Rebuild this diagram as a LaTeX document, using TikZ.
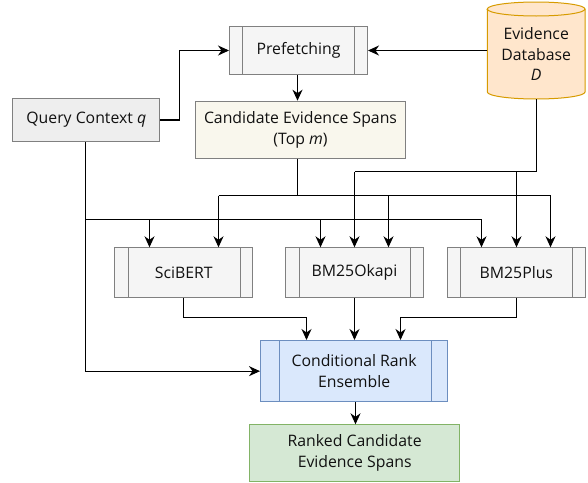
\documentclass[tikz,border=0pt]{standalone}
\usepackage{fontspec}
\setmainfont{Open Sans}
\usetikzlibrary{arrows.meta,calc}
\definecolor{grayfill}{HTML}{F5F5F5}
\definecolor{grayline}{HTML}{808080}
\definecolor{qfill}{HTML}{EEEEEE}
\definecolor{candfill}{HTML}{F9F7ED}
\definecolor{dbfill}{HTML}{FFE6CC}
\definecolor{dbline}{HTML}{D79B00}
\definecolor{crefill}{HTML}{DAE8FC}
\definecolor{creline}{HTML}{6C8EBF}
\definecolor{rkfill}{HTML}{D5E8D4}
\definecolor{rkline}{HTML}{82B366}
\definecolor{txt}{HTML}{111111}
\begin{document}
\begin{tikzpicture}[x=1pt,y=-1pt,
  font=\fontsize{15.8}{20.5}\selectfont,
  box/.style={draw=#1, line width=1pt, inner sep=0pt, align=center, anchor=north west, text=txt},
  arr/.style={-{Stealth[length=11pt,width=10pt,inset=3.5pt]}, line width=1.1pt, black},
  ln/.style={line width=1.1pt, black}]
\useasboundingbox (0,0) rectangle (588,482);

% nodes
\node[box=grayline, fill=grayfill, minimum width=138pt, minimum height=48pt] (pf) at (229,26) {Prefetching};
\node[box=grayline, fill=qfill, minimum width=147pt, minimum height=43pt] (q) at (12.3,98) {Query Context \textit{q}};
\node[box=grayline, fill=candfill, minimum width=210pt, minimum height=57pt] (cand) at (195,100.7) {Candidate Evidence Spans\\(Top \textit{m})};
\node[inner sep=0pt, minimum width=97.7pt, minimum height=97pt, anchor=north west] (db) at (487.3,2) {};
\node[box=grayline, fill=grayfill, minimum width=138pt, minimum height=49.4pt] (sci) at (114.3,247.3) {SciBERT};
\node[box=grayline, fill=grayfill, minimum width=138pt, minimum height=49.4pt] (ok) at (285,247.3) {BM25Okapi};
\node[box=grayline, fill=grayfill, minimum width=138.3pt, minimum height=49.4pt] (plus) at (446.7,247.3) {BM25Plus};
\node[box=creline, fill=crefill, minimum width=187.3pt, minimum height=61.3pt] (cre) at (260,340) {Conditional Rank\\Ensemble};
\node[box=rkline, fill=rkfill, minimum width=209.7pt, minimum height=56.4pt] (rk) at (249.3,424.3) {Ranked Candidate\\Evidence Spans};

% process side bars
\foreach \n/\l/\r in {pf/13.5/14, sci/14/13.3, ok/14/14, plus/14/13.3} {
  \draw[grayline, line width=1pt] ([xshift=\l pt]\n.north west) -- ([xshift=\l pt]\n.south west);
  \draw[grayline, line width=1pt] ([xshift=-\r pt]\n.north east) -- ([xshift=-\r pt]\n.south east);
}
\draw[creline, line width=1pt] ([xshift=19pt]cre.north west) -- ([xshift=19pt]cre.south west);
\draw[creline, line width=1pt] ([xshift=-17pt]cre.north east) -- ([xshift=-17pt]cre.south east);

% database cylinder
\draw[dbline, fill=dbfill, line width=1pt]
  (487.3,9) -- (487.3,92) arc[start angle=180, end angle=0, x radius=48.85, y radius=7]
  -- (585,9) arc[start angle=0, end angle=-180, x radius=48.85, y radius=7] -- cycle;
\draw[dbline, line width=1pt] (487.3,9) arc[start angle=180, end angle=0, x radius=48.85, y radius=7];
\node[align=center, text=txt, inner sep=0pt] (dbt) at (536.2,54) {Evidence\\Database\\\textit{D}};

% connectors
\draw[arr] (q.east) -- (179.5,0 |- q.east) |- (pf.west |- 0,50.5);
\draw[arr] (db.west |- 0,50.5) -- (pf.east |- 0,50.5);
\draw[arr] (297.5,0 |- pf.south) -- (297.5,0 |- cand.north);

% candidate bus
\draw[ln] (297.5,0 |- cand.south) -- (297.5,195.5);
\draw[ln] (218.5,195.5) -- (550.5,195.5);
\draw[arr] (218.5,195.5) -- (218.5,0 |- sci.north);
\draw[arr] (388.5,195.5) -- (388.5,0 |- ok.north);
\draw[arr] (550.5,195.5) -- (550.5,0 |- plus.north);

% database bus
\draw[ln] (536.5,0 |- db.south) -- (536.5,171.5) -- (354.5,171.5);
\draw[arr] (354.5,171.5) -- (354.5,0 |- ok.north);
\draw[arr] (516.5,171.5) -- (516.5,0 |- plus.north);

% query bus
\draw[arr] (85.5,0 |- q.south) |- (cre.west);
\draw[ln] (85.5,219.5) -- (481.5,219.5);
\draw[arr] (149.5,219.5) -- (149.5,0 |- sci.north);
\draw[arr] (320.5,219.5) -- (320.5,0 |- ok.north);
\draw[arr] (481.5,219.5) -- (481.5,0 |- plus.north);

% into the ensemble
\draw[arr] (183.5,0 |- sci.south) |- (306.5,317.5) -- (306.5,0 |- cre.north);
\draw[arr] (354.5,0 |- ok.south) -- (354.5,0 |- cre.north);
\draw[arr] (516.5,0 |- plus.south) |- (400.5,317.5) -- (400.5,0 |- cre.north);
\draw[arr] (355.5,0 |- cre.south) -- (355.5,0 |- rk.north);
\end{tikzpicture}
\end{document}
